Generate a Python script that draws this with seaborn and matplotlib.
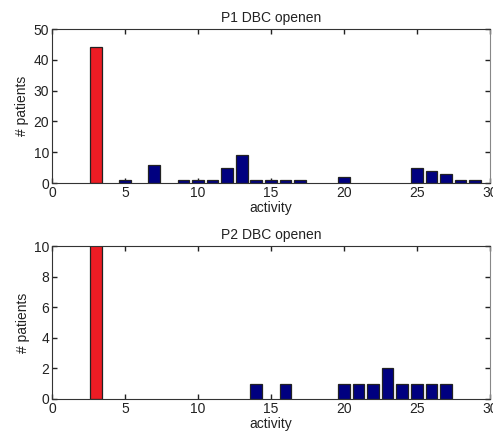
import matplotlib
matplotlib.use("Agg")
import matplotlib.pyplot as plt
import seaborn as sns
import pandas as pd

# Activity counts per patient group
p1_activity = [3, 5, 7, 9, 10, 11, 12, 13, 14, 15, 16, 17, 20, 25, 26, 27, 28, 29]
p1_patients = [44, 1, 6, 1, 1, 1, 5, 9, 1, 1, 1, 1, 2, 5, 4, 3, 1, 1]

p2_activity = [3, 14, 16, 20, 21, 22, 23, 24, 25, 26, 27]
p2_patients = [12, 1, 1, 1, 1, 1, 2, 1, 1, 1, 1]

highlight_activity = 3

sns.set_theme(style="ticks")
plt.rcParams["font.family"] = ["Liberation Sans", "DejaVu Sans"]
plt.rcParams["font.size"] = 10

RED = "#ED1C24"
NAVY = "#000080"

fig = plt.figure(figsize=(4.93, 4.37), dpi=100)
ax1 = fig.add_axes([0.1055, 0.5812, 0.888, 0.3524])
ax2 = fig.add_axes([0.1055, 0.087, 0.888, 0.350])


def draw(ax, act, pat, title, ymax, yticks):
    df = pd.DataFrame({"activity": act, "patients": pat})
    df["group"] = ["hi" if a == highlight_activity else "lo" for a in act]
    sns.barplot(data=df, x="activity", y="patients", hue="group",
                palette={"hi": RED, "lo": NAVY}, native_scale=True,
                width=0.8, edgecolor="#222222", linewidth=0.9,
                saturation=1, legend=False, ax=ax, dodge=False)
    ax.set_xlim(0, 30)
    ax.set_ylim(0, ymax)
    ax.set_xticks([0, 5, 10, 15, 20, 25, 30])
    ax.set_xticklabels(["0", "5", "10", "15", "20", "25", "30"])
    ax.set_yticks(yticks)
    ax.set_xlabel("activity", fontsize=10, labelpad=1, color="#222222")
    ax.set_ylabel("# patients", fontsize=10, labelpad=3, color="#222222")
    ax.set_title(title, fontsize=10, pad=5, color="#222222")
    ax.tick_params(axis="both", which="major", direction="in", length=3.5,
                   width=1.0, color="#222222", labelcolor="#222222",
                   top=True, right=True, bottom=True, left=True,
                   labelsize=10, pad=2)
    for side in ["left", "bottom", "top", "right"]:
        ax.spines[side].set_visible(True)
        ax.spines[side].set_color("#333333")
        ax.spines[side].set_linewidth(0.8)
    ax.spines["right"].set_color("#888888")


draw(ax1, p1_activity, p1_patients, "P1 DBC openen", 50, [0, 10, 20, 30, 40, 50])
draw(ax2, p2_activity, p2_patients, "P2 DBC openen", 10, [0, 2, 4, 6, 8, 10])

fig.savefig("out.png", dpi=100)
